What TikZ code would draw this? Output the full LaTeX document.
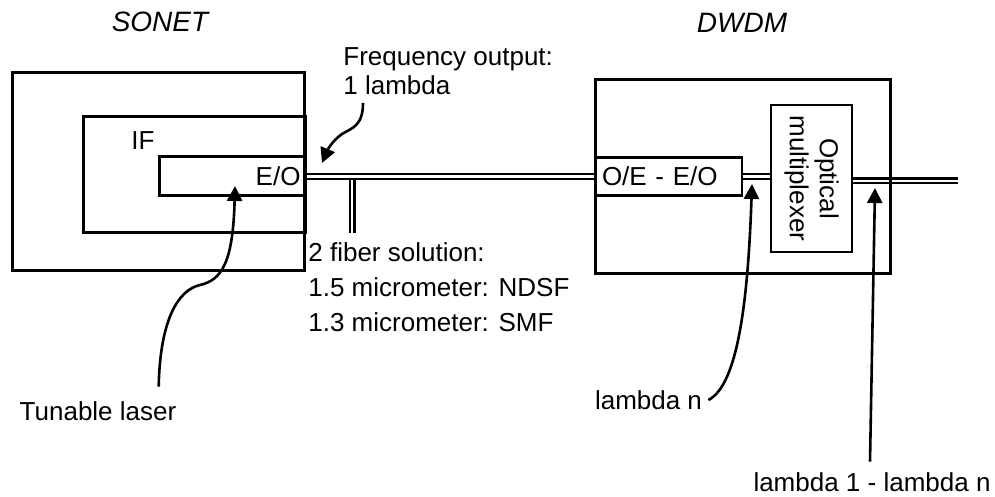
\documentclass[tikz,border=0pt]{standalone}
\usepackage{fontspec}
\setmainfont{Liberation Sans}
\usetikzlibrary{arrows.meta,calc,backgrounds}

\tikzset{
  box/.style={draw,line width=1.5pt,inner sep=0pt,font=\fontsize{13}{17.5}\selectfont},
  thinbox/.style={box,line width=1.2pt},
  fiber/.style={line width=1.1pt,double=white,double distance=1.3pt},
  pointer/.style={line width=1.3pt,-{Triangle[length=7.5pt,width=7.5pt]}},
  txt/.style={inner sep=0pt,font=\fontsize{13}{17.5}\selectfont},
  heading/.style={inner sep=0pt,font=\fontsize{14}{17}\selectfont\itshape},
}

\begin{document}
\begin{tikzpicture}[x=0.5pt,y=-0.5pt,line join=miter]
  \useasboundingbox (0,0) rectangle (995,497);

  % SONET side
  \node[heading] (sonet) at (160,22) {SONET};
  \draw[box] (12,73) rectangle (304,270);
  \draw[box] (83,117) rectangle (305.5,233);
  \node[txt] (if) at (143,141) {IF};
  \node[box,minimum width=73.25pt,minimum height=19.5pt,inner xsep=2.5pt,
        text width=68.25pt,align=right] (eo) at (232.25,176.5) {E/O};

  % DWDM side
  \node[heading] (dwdm) at (742,23) {DWDM};
  \draw[box] (595,80) rectangle (890,273);
  \node[thinbox,minimum width=73.5pt,minimum height=19pt,inner xsep=3.5pt,
        text width=66.5pt,align=left] (oe) at (668.5,176.5) {O/E - E/O};
  \node[thinbox,minimum width=40.5pt,minimum height=73.5pt] (mux) at (811.5,178.5) {};
  \node[txt,rotate=-90,align=center,font=\fontsize{13}{15}\selectfont]
    (muxtext) at (mux.center) {Optical\\multiplexer};

  % fibers, kept under the box lines
  \begin{scope}[on background layer]
    \coordinate (tap) at (352,176.5);
    \coordinate (out) at (958,181);
    \draw[fiber] (tap) -- ++(0,56.5);
    \draw[fiber] (eo.east) -- (oe.west);
    \draw[fiber] (oe.east) -- (oe.east -| mux.west);
    \draw[fiber] (out -| mux.east) -- (out);
  \end{scope}

  % labels
  \node[txt,anchor=west,align=left] (freq) at (343,71) {Frequency output:\\[-3pt]1 lambda};
  \node[txt,anchor=west,align=left] (fibers) at (308,287.5)
    {2 fiber solution:\\1.5 micrometer: NDSF\\1.3 micrometer: SMF};
  \node[txt] (laser) at (98,411) {Tunable laser};
  \node[txt] (lamn) at (648.5,400) {lambda n};
  \node[txt] (lamall) at (872,482) {lambda 1 - lambda n};

  % pointers
  \draw[pointer] ($(freq.south west)+(20,8)$) .. controls (363,126) and (352,128) .. (342,134)
    .. controls (332,141) and (327,151) .. (322,163);
  \draw[pointer] ($(laser.north east)+(-18,-14.5)$) .. controls (160,320) and (178,290) .. (200,285)
    .. controls (222,280) and (233,262) .. (235,186);
  \draw[pointer] ($(lamn.east)+(6,0)$) .. controls (738,385) and (748,300) .. (752,184);
  \draw[pointer] ($(lamall.north)+(-2,-10.5)$) -- (875,188);
\end{tikzpicture}
\end{document}
